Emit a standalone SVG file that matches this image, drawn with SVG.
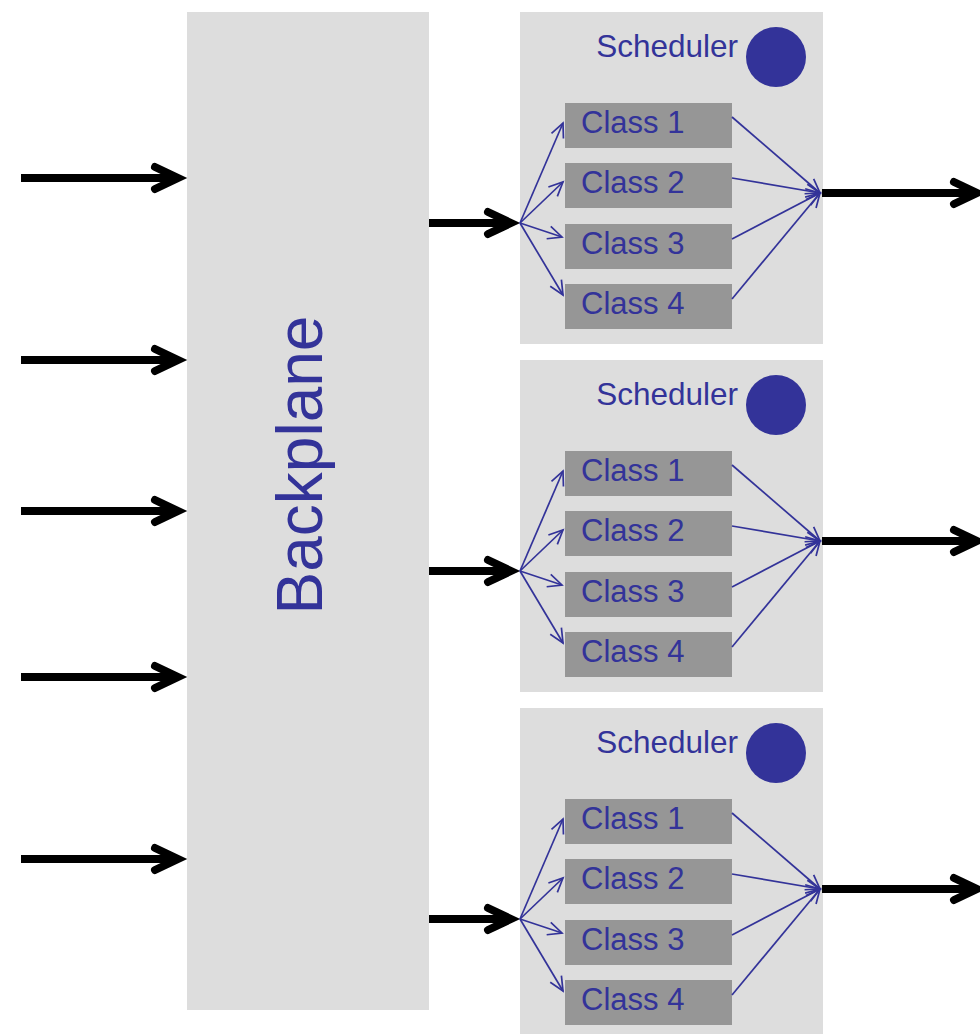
<svg xmlns="http://www.w3.org/2000/svg" width="980" height="1034" viewBox="0 0 980 1034">
  <style>
    .panel { fill: #dddddd; }
    .cls { fill: #969696; }
    .lbl { font-family: "Liberation Sans", Arial, sans-serif; fill: #333399; }
    .cl { font-size: 31px; }
    .sch { font-size: 31.5px; text-anchor: end; }
    .bp { font-size: 64px; text-anchor: middle; }
    .dot { fill: #333399; }
    .thick { stroke: #000; stroke-width: 8; fill: none; marker-end: url(#bigHead); }
    .thin { stroke: #333399; stroke-width: 1.7; fill: none; marker-end: url(#smallHead); }
  </style>
  <defs>
    <marker id="bigHead" markerUnits="userSpaceOnUse" orient="auto" refX="0" refY="0" markerWidth="60" markerHeight="60" overflow="visible">
      <path d="M-23,-11 L0,0 L-23,11" fill="none" stroke="#000" stroke-width="8" stroke-linecap="round" stroke-linejoin="miter"/>
    </marker>
    <marker id="smallHead" markerUnits="userSpaceOnUse" orient="auto" refX="0" refY="0" markerWidth="30" markerHeight="30" overflow="visible">
      <path d="M-14,-6.5 L0,0 L-14,6.5" fill="none" stroke="#333399" stroke-width="1.7"/>
    </marker>
  </defs>

  <rect width="980" height="1034" fill="#ffffff"/>

  <!-- switch fabric -->
  <g id="backplane">
    <rect class="panel" x="187" y="12" width="242" height="998"/>
    <text class="lbl bp" transform="translate(322,465) rotate(-90)">Backplane</text>
  </g>

  <!-- output port 1 -->
  <g id="port1">
    <rect class="panel" x="520" y="12" width="303" height="332"/>
    <text class="lbl sch" x="738" y="57">Scheduler</text>
    <circle class="dot" cx="776" cy="57" r="30"/>
    <g id="port1-class1"><rect class="cls" x="565" y="103" width="167" height="45"/><text class="lbl cl" x="581" y="133">Class 1</text></g>
    <g id="port1-class2"><rect class="cls" x="565" y="163" width="167" height="45"/><text class="lbl cl" x="581" y="193">Class 2</text></g>
    <g id="port1-class3"><rect class="cls" x="565" y="224" width="167" height="45"/><text class="lbl cl" x="581" y="254">Class 3</text></g>
    <g id="port1-class4"><rect class="cls" x="565" y="284" width="167" height="45"/><text class="lbl cl" x="581" y="314">Class 4</text></g>
  </g>

  <!-- output port 2 -->
  <g id="port2">
    <rect class="panel" x="520" y="360" width="303" height="332"/>
    <text class="lbl sch" x="738" y="405">Scheduler</text>
    <circle class="dot" cx="776" cy="405" r="30"/>
    <g id="port2-class1"><rect class="cls" x="565" y="451" width="167" height="45"/><text class="lbl cl" x="581" y="481">Class 1</text></g>
    <g id="port2-class2"><rect class="cls" x="565" y="511" width="167" height="45"/><text class="lbl cl" x="581" y="541">Class 2</text></g>
    <g id="port2-class3"><rect class="cls" x="565" y="572" width="167" height="45"/><text class="lbl cl" x="581" y="602">Class 3</text></g>
    <g id="port2-class4"><rect class="cls" x="565" y="632" width="167" height="45"/><text class="lbl cl" x="581" y="662">Class 4</text></g>
  </g>

  <!-- output port 3 -->
  <g id="port3">
    <rect class="panel" x="520" y="708" width="303" height="332"/>
    <text class="lbl sch" x="738" y="753">Scheduler</text>
    <circle class="dot" cx="776" cy="753" r="30"/>
    <g id="port3-class1"><rect class="cls" x="565" y="799" width="167" height="45"/><text class="lbl cl" x="581" y="829">Class 1</text></g>
    <g id="port3-class2"><rect class="cls" x="565" y="859" width="167" height="45"/><text class="lbl cl" x="581" y="889">Class 2</text></g>
    <g id="port3-class3"><rect class="cls" x="565" y="920" width="167" height="45"/><text class="lbl cl" x="581" y="950">Class 3</text></g>
    <g id="port3-class4"><rect class="cls" x="565" y="980" width="167" height="45"/><text class="lbl cl" x="581" y="1010">Class 4</text></g>
  </g>

  <g id="connectors">
    <!-- inputs into the backplane -->
    <path class="thick" d="M21,178 H178"/>
    <path class="thick" d="M21,360 H178"/>
    <path class="thick" d="M21,511 H178"/>
    <path class="thick" d="M21,677 H178"/>
    <path class="thick" d="M21,859 H178"/>

    <!-- backplane to ports -->
    <path class="thick" d="M429,223 H511"/>
    <path class="thick" d="M429,571 H511"/>
    <path class="thick" d="M429,919 H511"/>

    <!-- port outputs -->
    <path class="thick" d="M822,193 H977"/>
    <path class="thick" d="M822,541 H977"/>
    <path class="thick" d="M822,889 H977"/>

    <!-- port 1 classifier fan-out / scheduler fan-in -->
    <path class="thin" d="M520,223 L563,123"/>
    <path class="thin" d="M520,223 L563,182"/>
    <path class="thin" d="M520,223 L562,237"/>
    <path class="thin" d="M520,223 L563,295"/>
    <path class="thin" d="M732,117 L820,193"/>
    <path class="thin" d="M732,178 L820,193"/>
    <path class="thin" d="M732,239 L820,193"/>
    <path class="thin" d="M732,299 L820,193"/>

    <!-- port 2 -->
    <path class="thin" d="M520,571 L563,471"/>
    <path class="thin" d="M520,571 L563,530"/>
    <path class="thin" d="M520,571 L562,585"/>
    <path class="thin" d="M520,571 L563,643"/>
    <path class="thin" d="M732,465 L820,541"/>
    <path class="thin" d="M732,526 L820,541"/>
    <path class="thin" d="M732,587 L820,541"/>
    <path class="thin" d="M732,647 L820,541"/>

    <!-- port 3 -->
    <path class="thin" d="M520,919 L563,819"/>
    <path class="thin" d="M520,919 L563,878"/>
    <path class="thin" d="M520,919 L562,933"/>
    <path class="thin" d="M520,919 L563,991"/>
    <path class="thin" d="M732,813 L820,889"/>
    <path class="thin" d="M732,874 L820,889"/>
    <path class="thin" d="M732,935 L820,889"/>
    <path class="thin" d="M732,995 L820,889"/>
  </g>
</svg>
